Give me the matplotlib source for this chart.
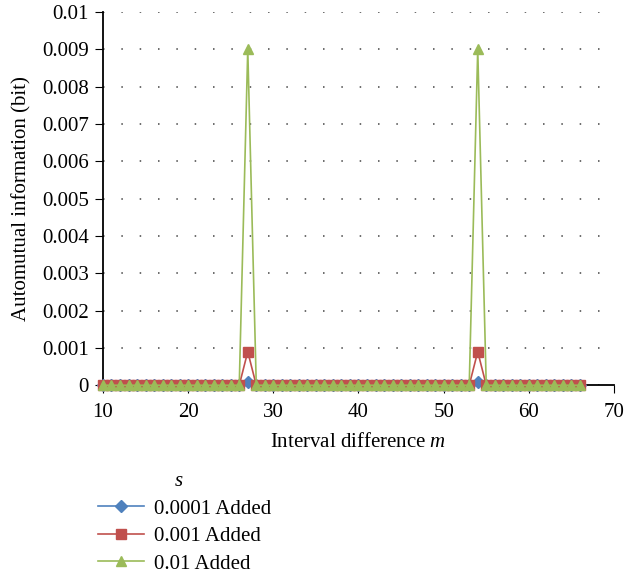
import numpy as np
import matplotlib.pyplot as plt

plt.rcParams['font.family'] = ['Liberation Serif', 'DejaVu Serif']
plt.rcParams['mathtext.fontset'] = 'custom'
plt.rcParams['mathtext.it'] = 'Liberation Serif:italic'

# interval difference m and automutual information for each noise level
m = np.arange(10, 67)
peaks = [27, 54]
ami_00001 = np.where(np.isin(m, peaks), 0.0001, 0.0)
ami_0001 = np.where(np.isin(m, peaks), 0.0009, 0.0)
ami_001 = np.where(np.isin(m, peaks), 0.009, 0.0)
labels = ['0.0001 Added', '0.001 Added', '0.01 Added']

fig = plt.figure(figsize=(6.24, 5.75), dpi=100)
ax = fig.add_axes([0.165, 0.330, 0.819, 0.649])

ax.plot(m, ami_00001, color='#4F81BD', marker='D', markersize=6, lw=1.2,
        label=labels[0], clip_on=False, zorder=3)
ax.plot(m, ami_0001, color='#C0504D', marker='s', markersize=7, lw=1.2,
        label=labels[1], clip_on=False, zorder=4)
ax.plot(m, ami_001, color='#9BBB59', marker='^', markersize=7, lw=1.2,
        label=labels[2], clip_on=False, zorder=5)

ax.set_xlim(10, 70)
ax.set_ylim(0, 0.01)
ax.set_xticks(range(10, 71, 10))
yt = np.arange(0, 0.0101, 0.001)
ax.set_yticks(yt)
ax.set_yticklabels(['0'] + [f'{v:.3f}' for v in yt[1:-1]] + ['0.01'])
ax.tick_params(labelsize=15, length=6, direction='out', color='black')
ax.tick_params(axis='x', pad=7)
ax.tick_params(axis='y', pad=4)
ax.yaxis.grid(True, linestyle=(0, (1, 11)), color='#444444', lw=1.1)
ax.set_axisbelow(True)
for s in ['top', 'right']:
    ax.spines[s].set_visible(False)
ax.spines['left'].set_linewidth(1.3)
ax.spines['bottom'].set_linewidth(1.3)

ax.set_xlabel('Interval difference $m$', fontsize=15, labelpad=8)
ax.set_ylabel('Automutual information (bit)', fontsize=15, labelpad=8)

leg = fig.legend(loc='upper left', bbox_to_anchor=(0.14, 0.197), frameon=False,
                 title='$s$', fontsize=15, title_fontsize=15,
                 handlelength=2.2, handletextpad=0.5, labelspacing=0.38,
                 borderpad=0, alignment='left')
leg.get_title().set_position((76, 0))

fig.savefig('out.png', dpi=100)
